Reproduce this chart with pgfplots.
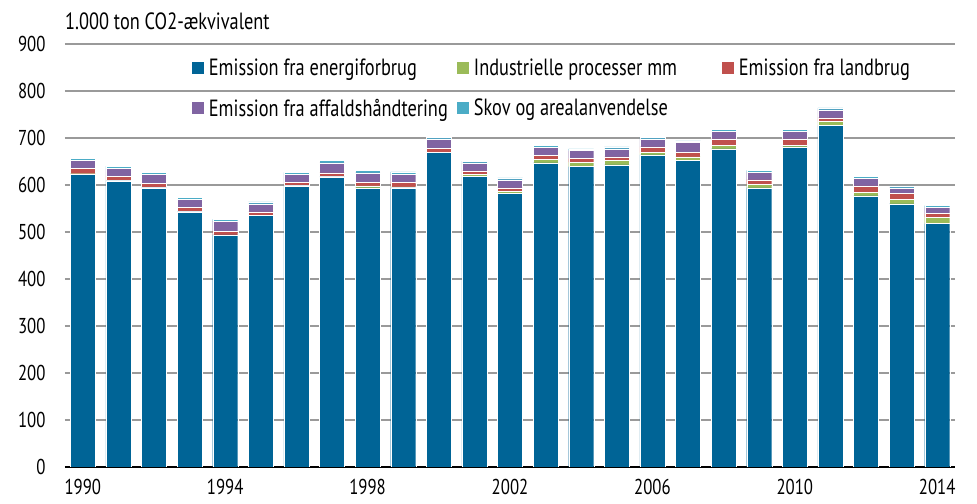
\documentclass[border=0pt]{standalone}
\usepackage{fontspec}
\setmainfont{PT Sans}[FakeStretch=0.78]
\usepackage{pgfplots}
\usepackage{pgfplotstable}
\pgfplotsset{compat=1.18}
\definecolor{cblue}{HTML}{006496}
\definecolor{cgreen}{HTML}{9BBB59}
\definecolor{cred}{HTML}{C0504D}
\definecolor{cpurple}{HTML}{8064A2}
\definecolor{ccyan}{HTML}{4BACC6}
\definecolor{gridgray}{HTML}{9A9A9A}
\pgfplotstableread{
year energi ind land affald skov
1990 623 1 12 16 5
1991 609 1 9 16 5
1992 594 1 8 20 4
1993 543 1 8 17 4
1994 494 0 8 21 4
1995 535 0 8 17 4
1996 598 1 7 17 4
1997 617 1 8 21 5
1998 594 4 8 20 5
1999 594 2 10 17 5
2000 669 1 8 20 4
2001 618 4 8 17 4
2002 582 4 8 17 4
2003 647 8 8 17 4
2004 639 9 8 17 4
2005 643 9 8 17 4
2006 664 5 12 17 4
2007 652 8 9 21 4
2008 677 8 13 16 4
2009 594 8 9 16 4
2010 681 4 13 16 4
2011 727 8 8 17 4
2012 577 8 13 16 4
2013 560 9 13 12 4
2014 518 13 8 13 4
}\datatable
\newcommand{\lbox}[1]{\makebox[249pt][l]{\hspace{3pt}#1}}
\begin{document}
\begin{tikzpicture}
\begin{axis}[
  name=ax,
  scale only axis,
  width=890pt, height=423pt,
  xmin=1989.5, xmax=2014.5,
  ymin=0, ymax=900,
  ybar stacked,
  bar width=25pt,
  xtick={1990,1994,...,2014},
  ytick={0,100,...,900},
  /pgf/number format/1000 sep={},
  /pgf/number format/assume math mode=true,
  major tick length=0pt,
  axis x line*=bottom,
  axis y line*=left,
  y axis line style={draw=none},
  x axis line style={black, line width=1.6pt},
  ymajorgrids,
  grid style={gridgray, line width=1.5pt},
  tick label style={font=\fontsize{21.5}{25}\selectfont, black},
  xticklabel style={yshift=-11pt, inner sep=1pt},
  yticklabel style={xshift=-16pt},
  every axis plot/.append style={draw=white, line width=0.4pt},
  legend columns=3,
  legend style={draw=none, fill=none, at={(rel axis cs:0.139,0.975)}, anchor=north west,
    font=\fontsize{23.5}{27}\selectfont, row sep=18pt,
    /tikz/every odd column/.append style={column sep=0pt}},
  legend cell align=left,
  legend image code/.code={\fill[#1,draw=none] (0pt,-6pt) rectangle (12pt,6pt);},
]
\addplot[fill=cblue] table[x=year,y=energi]{\datatable};
\addlegendentry{\lbox{Emission fra energiforbrug}}
\addplot[fill=cgreen] table[x=year,y=ind]{\datatable};
\addlegendentry{\lbox{Industrielle processer mm}}
\addplot[fill=cred] table[x=year,y=land]{\datatable};
\addlegendentry{\lbox{Emission fra landbrug}}
\addplot[fill=cpurple] table[x=year,y=affald]{\datatable};
\addlegendentry{\lbox{Emission fra affaldshåndtering}}
\addplot[fill=ccyan] table[x=year,y=skov]{\datatable};
\addlegendentry{\lbox{Skov og arealanvendelse}}
\end{axis}
\node[anchor=base west, inner sep=0pt, font=\fontsize{23.5}{27}\selectfont] at ([yshift=14pt]ax.north west) {1.000 ton CO2-ækvivalent};
\pgfresetboundingbox
\path[use as bounding box] ([xshift=-65pt,yshift=-37pt]ax.south west) rectangle ([xshift=22pt,yshift=44pt]ax.north east);
\end{tikzpicture}
\end{document}
